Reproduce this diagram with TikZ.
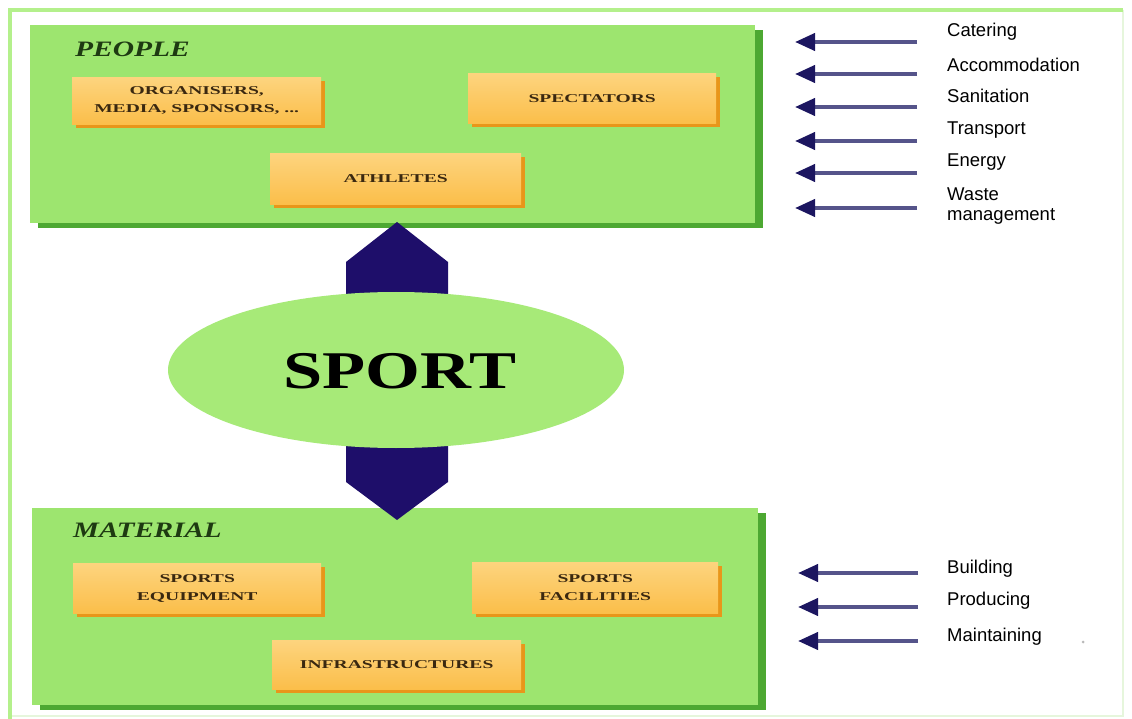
\documentclass[tikz,border=0pt]{standalone}
\usepackage{fontspec}
\setmainfont{Liberation Serif}
\newfontfamily\arialf{Liberation Sans}
\usetikzlibrary{arrows.meta,shapes.geometric,shadows}
\definecolor{boxgreen}{HTML}{9DE56F}
\definecolor{boxshadow}{HTML}{4DA832}
\definecolor{frameg}{HTML}{B4F08C}
\definecolor{framefaint}{HTML}{E6F6DC}
\definecolor{orangetop}{HTML}{FDD47E}
\definecolor{orangebot}{HTML}{FBBE4A}
\definecolor{orangesh}{HTML}{E8961A}
\definecolor{navy}{HTML}{1E0E6A}
\definecolor{arrline}{HTML}{55548A}
\definecolor{arrhead}{HTML}{1C1660}
\definecolor{ellg}{HTML}{A7EA78}
\definecolor{titleg}{HTML}{1E3A12}
\definecolor{boxtext}{HTML}{3A2810}
\newcommand{\wb}[1]{\scalebox{1.63}[1]{#1}}
\tikzset{
  bigbox/.style={rectangle, fill=boxgreen, anchor=north west, inner sep=0pt,
    drop shadow={shadow xshift=8pt, shadow yshift=-5pt, fill=boxshadow, opacity=1}},
  obox/.style={rectangle, top color=orangetop, bottom color=orangebot, anchor=north west,
    inner sep=0pt, align=center, text=boxtext,
    font=\fontsize{12}{18}\selectfont\bfseries,
    drop shadow={shadow xshift=4pt, shadow yshift=-4pt, fill=orangesh, opacity=1}},
  grouptitle/.style={anchor=base west, inner sep=0pt, text=titleg,
    font=\fontsize{22}{22}\selectfont\bfseries\itshape},
  lab/.style={inner sep=0pt, align=left, font=\arialf\fontsize{18.5}{20}\selectfont},
  inarrow/.style={line width=4pt, arrline, -{Triangle[length=20pt,width=17pt,color=arrhead]}},
  bigarrow/.style={fill=navy}
}
\begin{document}
\begin{tikzpicture}[x=1pt,y=-1pt]
\useasboundingbox (0,0) rectangle (1132,719);
\fill[white] (0,0) rectangle (1132,719);
% outer frame
\draw[framefaint, line width=2pt] (1123,10) -- (1123,716) -- (10,716);
\draw[frameg, line width=4pt] (10,719) -- (10,10) -- (1123,10);

% group boxes
\node[bigbox, minimum width=725pt, minimum height=198pt] (people) at (30,25) {};
\node[bigbox, minimum width=726pt, minimum height=197pt] (material) at (32,508) {};

\node[grouptitle] (peoplet) at (75,57) {\scalebox{1.34}[1]{PEOPLE}};
\node[grouptitle] (materialt) at (73,537) {\scalebox{1.32}[1]{MATERIAL}};

% orange boxes
\node[obox, minimum width=249pt, minimum height=47pt] (org) at (72,77) {\wb{ORGANISERS,}\\\wb{MEDIA, SPONSORS, ...}};
\node[obox, minimum width=248pt, minimum height=50pt] (spec) at (468,73) {\wb{SPECTATORS}};
\node[obox, minimum width=251pt, minimum height=51pt] (ath) at (270,153) {\wb{ATHLETES}};
\node[obox, minimum width=248pt, minimum height=50pt] (equip) at (73,563) {\wb{SPORTS}\\\wb{EQUIPMENT}};
\node[obox, minimum width=246pt, minimum height=51pt] (fac) at (472,562) {\wb{SPORTS}\\\wb{FACILITIES}};
\node[obox, minimum width=249pt, minimum height=49pt] (infra) at (272,640) {\wb{INFRASTRUCTURES}};

% big navy arrows
\fill[bigarrow] (397,222) -- (448,262) -- (448,305) -- (346,305) -- (346,262) -- cycle;
\fill[bigarrow] (346,440) -- (448,440) -- (448,482) -- (397,520) -- (346,482) -- cycle;

% sport ellipse
\node[ellipse, fill=ellg, minimum width=456pt, minimum height=156pt, inner sep=0pt] (sport) at (396,370) {};
\node[inner sep=0pt, font=\fontsize{53}{53}\selectfont\bfseries] (sportt) at (400,371) {\scalebox{1.33}[1]{SPORT}};

% right labels (people)
\node[lab, anchor=base west] (cat) at (947,37) {Catering};
\node[lab, anchor=base west] (acc) at (947,72) {Accommodation};
\node[lab, anchor=base west] (san) at (947,103) {Sanitation};
\node[lab, anchor=base west] (tra) at (947,135) {Transport};
\node[lab, anchor=base west] (ene) at (947,167) {Energy};
\node[lab, anchor=north west] (was) at (947,188) {Waste\\management};

\foreach \n/\y in {cat/42,acc/74,san/107,tra/141,ene/173,was/208}{
  \coordinate (\n s) at (917,\y);
  \coordinate (\n e) at (795,\y);
  \draw[inarrow] (\n s) -- (\n e);
}

% right labels (material)
\node[lab, anchor=base west] (bui) at (947,573) {Building};
\node[lab, anchor=base west] (pro) at (947,605) {Producing};
\node[lab, anchor=base west] (mai) at (947,641) {Maintaining};

\foreach \n/\y in {bui/573,pro/607,mai/641}{
  \coordinate (\n s) at (918,\y);
  \coordinate (\n e) at (798,\y);
  \draw[inarrow] (\n s) -- (\n e);
}

\fill[gray!55] (1083,642) circle (1.5pt);
\end{tikzpicture}
\end{document}
